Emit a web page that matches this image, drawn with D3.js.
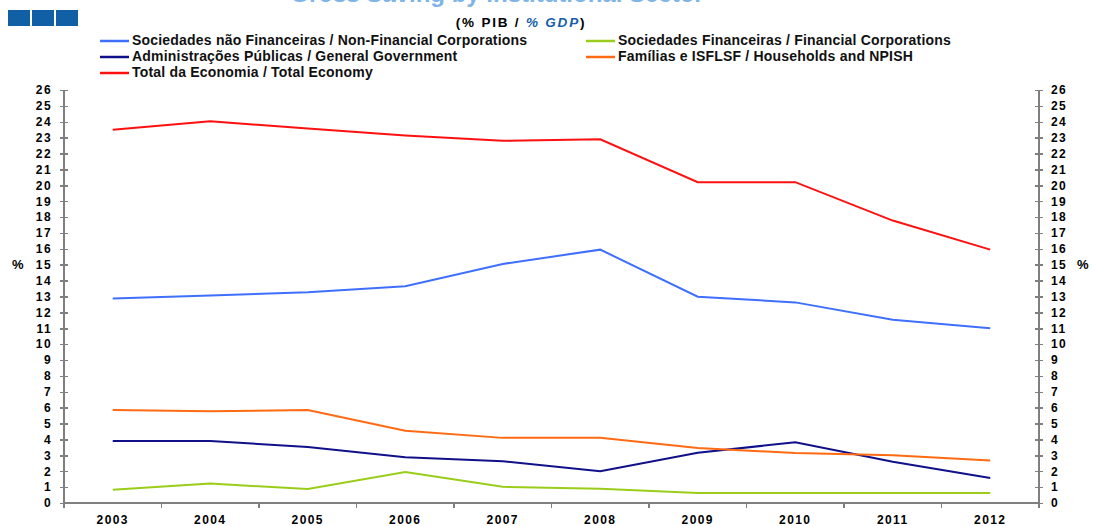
<!DOCTYPE html>
<html>
<head>
<meta charset="utf-8">
<script src="https://d3js.org/d3.v7.min.js"></script>
<style>
body { margin: 0; background: #fff; }
svg { display: block; font-family: "Liberation Sans", Arial, sans-serif; }
.axis path, .axis line { stroke: #7f7f7f; stroke-width: 1.5px; shape-rendering: crispEdges; }
.axis text { font-size: 12px; font-weight: bold; fill: #000; letter-spacing: 1.4px; }
.line { fill: none; stroke-width: 2px; }
.legend text { font-size: 14px; font-weight: bold; fill: #111; letter-spacing: 0.2px; }
</style>
</head>
<body>
<svg width="1093" height="526"></svg>
<script>
const years = ["2003", "2004", "2005", "2006", "2007", "2008", "2009", "2010", "2011", "2012"];
const yTicks = d3.range(0, 27);

const seriesNames = [
  "Sociedades não Financeiras / Non-Financial Corporations",
  "Sociedades Financeiras / Financial Corporations",
  "Administrações Públicas / General Government",
  "Famílias e ISFLSF / Households and NPISH",
  "Total da Economia / Total Economy"
];
const seriesColors = ["#3f6fff", "#9acd1a", "#10108a", "#ff6a12", "#ff1010"];

const nonFinancial = [12.87, 13.06, 13.26, 13.64, 15.05, 15.95, 12.99, 12.63, 11.54, 11.0];
const financial    = [0.84, 1.22, 0.88, 1.95, 1.02, 0.89, 0.63, 0.63, 0.63, 0.63];
const government   = [3.9, 3.9, 3.53, 2.88, 2.63, 2.0, 3.17, 3.82, 2.6, 1.57];
const households   = [5.86, 5.77, 5.86, 4.55, 4.1, 4.1, 3.46, 3.15, 3.0, 2.68];
const total        = [23.5, 24.03, 23.57, 23.13, 22.8, 22.9, 20.2, 20.2, 17.78, 15.95];
const seriesValues = [nonFinancial, financial, government, households, total];

const svg = d3.select("svg");
const plotLeft = 64, plotRight = 1039, plotTop = 90, plotBottom = 503;

// logo blocks and title (its top lies above the page edge, as in the source)
svg.selectAll(".logo")
  .data([0, 1, 2])
  .enter()
  .append("rect")
  .attr("x", (d) => 8 + d * 24)
  .attr("y", 10)
  .attr("width", 22)
  .attr("height", 16)
  .attr("fill", "#1160a6");

svg.append("text")
  .attr("x", 497)
  .attr("y", 1.5)
  .attr("text-anchor", "middle")
  .attr("font-size", 24)
  .attr("font-weight", "bold")
  .attr("fill", "#7fb4e6")
  .text("Gross Saving by Institutional Sector");

const sub = svg.append("text")
  .attr("x", 521)
  .attr("y", 27)
  .attr("text-anchor", "middle")
  .attr("font-size", 13.5)
  .attr("font-weight", "bold")
  .attr("letter-spacing", 1.8);
sub.append("tspan").text("(% PIB / ");
sub.append("tspan").attr("fill", "#1560a8").attr("font-style", "italic").text("% GDP");
sub.append("tspan").text(")");

// legend
const legendPos = [[100, 45], [586, 45], [100, 61], [586, 61], [100, 77]];
const legend = svg.append("g").attr("class", "legend");
seriesNames.forEach((name, i) => {
  const [lx, ly] = legendPos[i];
  legend.append("line")
    .attr("x1", lx).attr("x2", lx + 29)
    .attr("y1", ly - 4).attr("y2", ly - 4)
    .attr("stroke", seriesColors[i])
    .attr("stroke-width", 2.5);
  legend.append("text")
    .attr("x", lx + 32)
    .attr("y", ly)
    .text(name);
});

const x = d3.scaleBand().domain(years).range([plotLeft, plotRight]);
const y = d3.scaleLinear().domain([0, 26]).range([plotBottom, plotTop]);

// left axis
const gl = svg.append("g")
  .attr("class", "axis")
  .attr("transform", `translate(${plotLeft},0)`)
  .call(d3.axisLeft(y).tickValues(yTicks).tickFormat(d3.format("d")).tickSizeInner(4).tickSizeOuter(0).tickPadding(8));
gl.selectAll(".tick line").attr("x1", -4).attr("x2", 4);
gl.select(".domain").attr("d", `M0,${plotTop}V${plotBottom + 5}`);

// right axis
const gr = svg.append("g")
  .attr("class", "axis")
  .attr("transform", `translate(${plotRight},0)`)
  .call(d3.axisRight(y).tickValues(yTicks).tickFormat(d3.format("d")).tickSizeInner(4).tickSizeOuter(0).tickPadding(8));
gr.selectAll(".tick line").attr("x1", -4).attr("x2", 4);
gr.selectAll(".tick text").attr("text-anchor", "start");
gr.select(".domain").attr("d", `M0,${plotTop}V${plotBottom + 5}`);

// bottom axis
const gb = svg.append("g")
  .attr("class", "axis")
  .attr("transform", `translate(0,${plotBottom})`)
  .call(d3.axisBottom(x).tickSize(0).tickPadding(12));
gb.select(".domain").attr("d", `M${plotLeft},0H${plotRight}`);
gb.selectAll(".tick text").attr("dy", "0.71em");
gb.selectAll(".bound")
  .data(years.slice(1))
  .enter()
  .append("line")
  .attr("class", "bound")
  .attr("x1", (d) => x(d)).attr("x2", (d) => x(d))
  .attr("y1", 0).attr("y2", 5);

// % labels
svg.append("text").attr("x", 12).attr("y", 269)
  .attr("font-size", 13).attr("font-weight", "bold").text("%");
svg.append("text").attr("x", 1077).attr("y", 269)
  .attr("font-size", 13).attr("font-weight", "bold").text("%");

// lines
const line = d3.line()
  .x((d, i) => x(years[i]) + x.bandwidth() / 2)
  .y((d) => y(d));

seriesValues.forEach((vals, i) => {
  svg.append("path")
    .datum(vals)
    .attr("class", "line")
    .attr("stroke", seriesColors[i])
    .attr("d", line);
});
</script>
</body>
</html>
